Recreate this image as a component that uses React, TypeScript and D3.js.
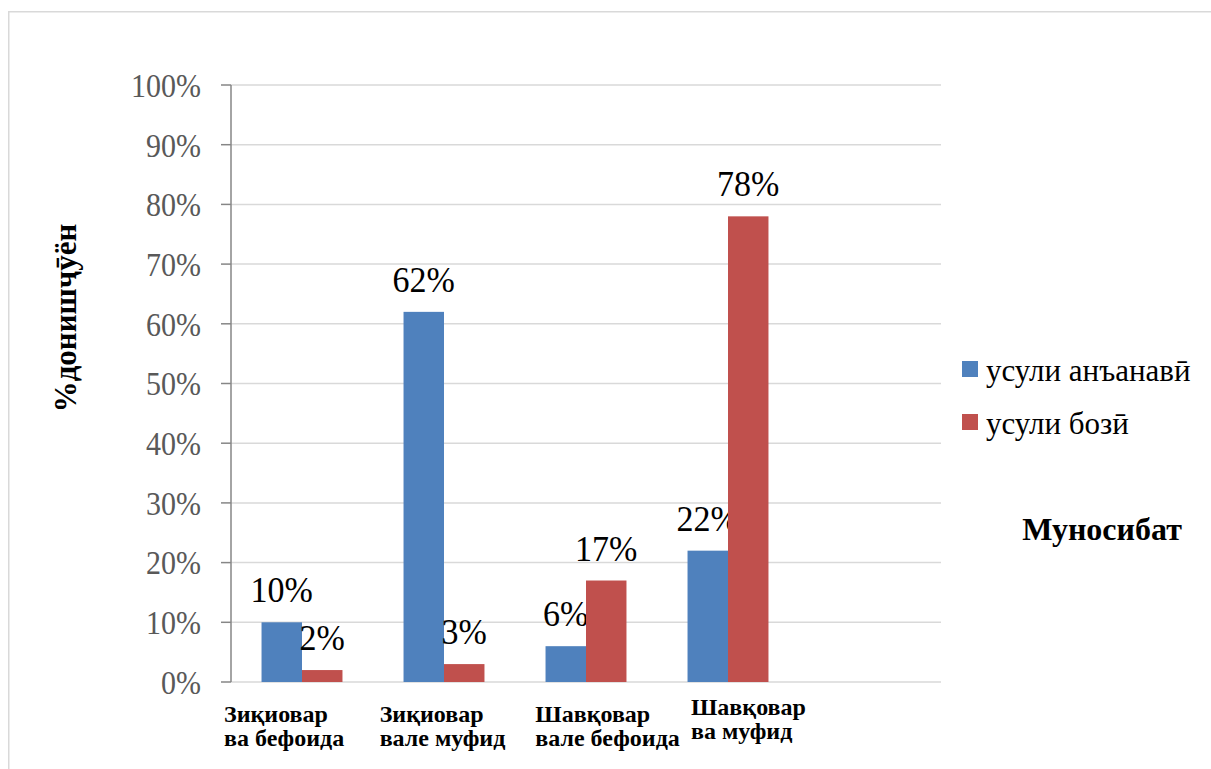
import React from "react";
import * as d3 from "d3";

const categories = ["Зиқиовар|ва бефоида", "Зиқиовар|вале муфид", "Шавқовар|вале бефоида", "Шавқовар|ва муфид", ""];
const seriesNames = ["усули анъанавӣ", "усули бозӣ"];
const traditional = [10, 62, 6, 22];
const game = [2, 3, 17, 78];
const yTicks = [0, 10, 20, 30, 40, 50, 60, 70, 80, 90, 100];
const colors = ["#4f81bd", "#c0504d"];
const yTitle = "%донишҷӯён";
const legendTitle = "Муносибат";

const W = 1211, H = 769;
const plotL = 231, plotR = 941, plotT = 85, plotB = 682;
const serif = "Liberation Serif, Tinos, DejaVu Serif, serif";

export default function App() {
  const x = d3.scaleBand<string>().domain(categories).range([plotL, plotR]).paddingInner(0).paddingOuter(0);
  const y = d3.scaleLinear().domain([0, 100]).range([plotB, plotT]);
  const bw = x.bandwidth();
  const barW = bw * 0.285;
  const inner = d3.scaleBand<number>().domain([0, 1]).range([bw / 2 - barW, bw / 2 + barW]);
  const series = [traditional, game];
  const labelX = d3.scalePoint<string>().domain(categories.slice(0, 4)).range([224, 691]);
  const ts = { fontFamily: serif };

  return (
    <svg width={W} height={H} style={{ position: "absolute", left: 0, top: 0, fontFamily: serif }}>
      <rect x={8.75} y={11.75} width={W + 20} height={H + 20} fill="white" stroke="#d9d9d9" strokeWidth={1.5} />
      {yTicks.map((t) => (
        <g key={t}>
          <line x1={plotL} x2={plotR} y1={y(t)} y2={y(t)} stroke="#d9d9d9" strokeWidth={1.5} />
          <line x1={plotL - 10} x2={plotL} y1={y(t)} y2={y(t)} stroke="#868686" strokeWidth={1.5} />
          <g transform={`translate(201,${y(t)}) scale(1,1.1)`}>
            <text style={ts} x={0} y={0} dy="0.36em" textAnchor="end" fontSize={30} fill="#595959">{t}%</text>
          </g>
        </g>
      ))}
      <line x1={plotL} x2={plotL} y1={plotT} y2={plotB} stroke="#868686" strokeWidth={1.5} />
      {series.map((vals, si) =>
        vals.map((v, ci) => {
          const bx = (x(categories[ci]) as number) + (inner(si) as number);
          return (
            <g key={`${si}-${ci}`}>
              <rect x={bx} y={y(v)} width={inner.bandwidth()} height={plotB - y(v)} fill={colors[si]} />
              <g transform={`translate(${bx + inner.bandwidth() / 2},${y(v) - 20}) scale(1,1.06)`}>
                <text style={ts} x={0} y={0} textAnchor="middle" fontSize={34} fill="#000">{v}%</text>
              </g>
            </g>
          );
        })
      )}
      {categories.slice(0, 4).map((c, i) => {
        const lines = c.split("|");
        const shift = i === 3 ? -7 : 0;
        return (
          <text style={ts} key={c} x={labelX(c)} y={722 + shift} fontSize={24} fontWeight="bold" fill="#000">
            <tspan x={labelX(c)}>{lines[0]}</tspan>
            <tspan x={labelX(c)} dy={24}>{lines[1]}</tspan>
          </text>
        );
      })}
      <text style={ts} transform={`translate(65,318) rotate(-90)`} textAnchor="middle" dy="0.35em" fontSize={31} fontWeight="bold" fill="#000">{yTitle}</text>
      {seriesNames.map((n, i) => (
        <g key={n}>
          <rect x={962} y={361 + i * 53} width={16} height={16} fill={colors[i]} />
          <text style={ts} x={986} y={370 + i * 53} dy="0.36em" fontSize={31} fill="#000">{n}</text>
        </g>
      ))}
      <text style={ts} x={1102} y={528} dy="0.36em" textAnchor="middle" fontSize={32} fontWeight="bold" fill="#000">{legendTitle}</text>
    </svg>
  );
}
